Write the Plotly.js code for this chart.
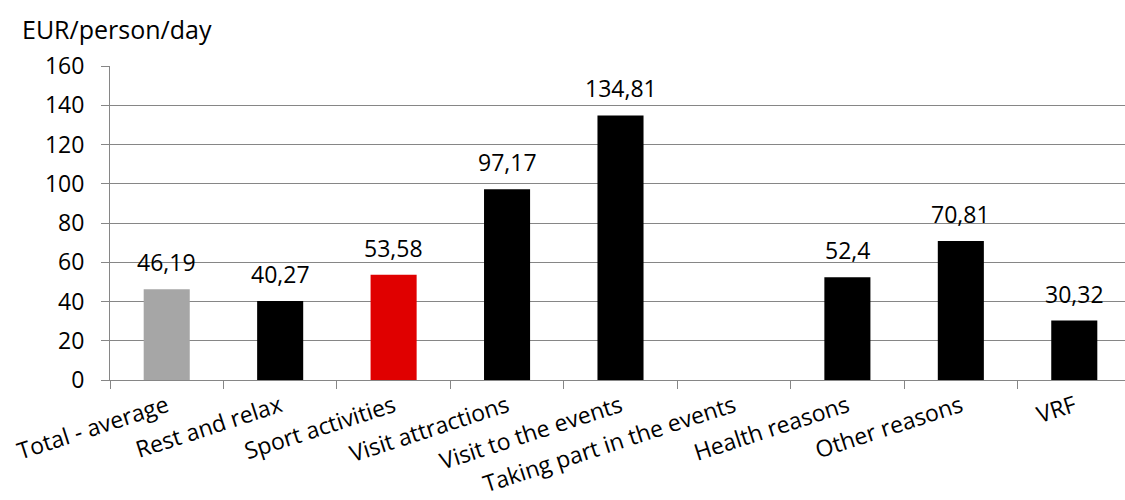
<!DOCTYPE html>
<html>
<head>
<meta charset="utf-8">
<script src="https://cdn.plot.ly/plotly-3.0.1.min.js"></script>
<style>html,body{margin:0;padding:0;overflow:hidden;background:#fff;width:1125px;height:500px}</style>
</head>
<body>
<div id="chart"></div>
<script>
const categories = ["Total - average","Rest and relax","Sport activities","Visit attractions","Visit to the events","Taking part in the events","Health reasons","Other reasons","VRF"];
const values = [46.19, 40.27, 53.58, 97.17, 134.81, null, 52.4, 70.81, 30.32];
const valueLabels = ["46,19","40,27","53,58","97,17","134,81","","52,4","70,81","30,32"];
const barColors = ["#a6a6a6","#000000","#e00000","#000000","#000000","#000000","#000000","#000000","#000000"];
const yTicks = [0,20,40,60,80,100,120,140,160];
const yTitle = "EUR/person/day";

const FONT = "Open Sans, sans-serif";

const annotations = categories.map((c,i)=> values[i]==null ? null : ({
  x: c, y: values[i], xref:'x', yref:'y', text: valueLabels[i], showarrow:false,
  yanchor:'middle', yshift: 27, font:{family:FONT, size:23, color:'#000'}
})).filter(a=>a);
annotations.push({xref:'paper', yref:'paper', x:-0.0885, y:1.0, xanchor:'left', yanchor:'middle', yshift:37.5,
  text:yTitle, showarrow:false, font:{family:FONT, size:25, color:'#000'}});

Plotly.newPlot('chart', [{
  type:'bar', x:categories, y:values, marker:{color:barColors, line:{width:0}},
  hoverinfo:'none'
}], {
  width:1140, height:500,
  margin:{l:110.3, r:9, t:65.7, b:120.3},
  paper_bgcolor:'#fff', plot_bgcolor:'#fff',
  bargap:0.594,
  showlegend:false,
  xaxis:{type:'category', tickson:'boundaries', ticks:'outside', ticklen:8, tickcolor:'#868686',
    showline:true, linecolor:'#868686', linewidth:1, showgrid:false, tickangle:-18,
    tickfont:{family:FONT, size:23, color:'#000'}, ticklabelstandoff:3, range:[-0.5,8.5], fixedrange:true},
  yaxis:{range:[0,160], tickvals:yTicks, ticks:'outside', ticklen:8, tickcolor:'#868686',
    showline:true, linecolor:'#868686', linewidth:1, showgrid:true, gridcolor:'#868686', gridwidth:1,
    zeroline:false, tickfont:{family:FONT, size:23, color:'#000'}, ticklabelstandoff:12, fixedrange:true},
  annotations: annotations
}, {displayModeBar:false, staticPlot:true});
</script>
</body>
</html>
